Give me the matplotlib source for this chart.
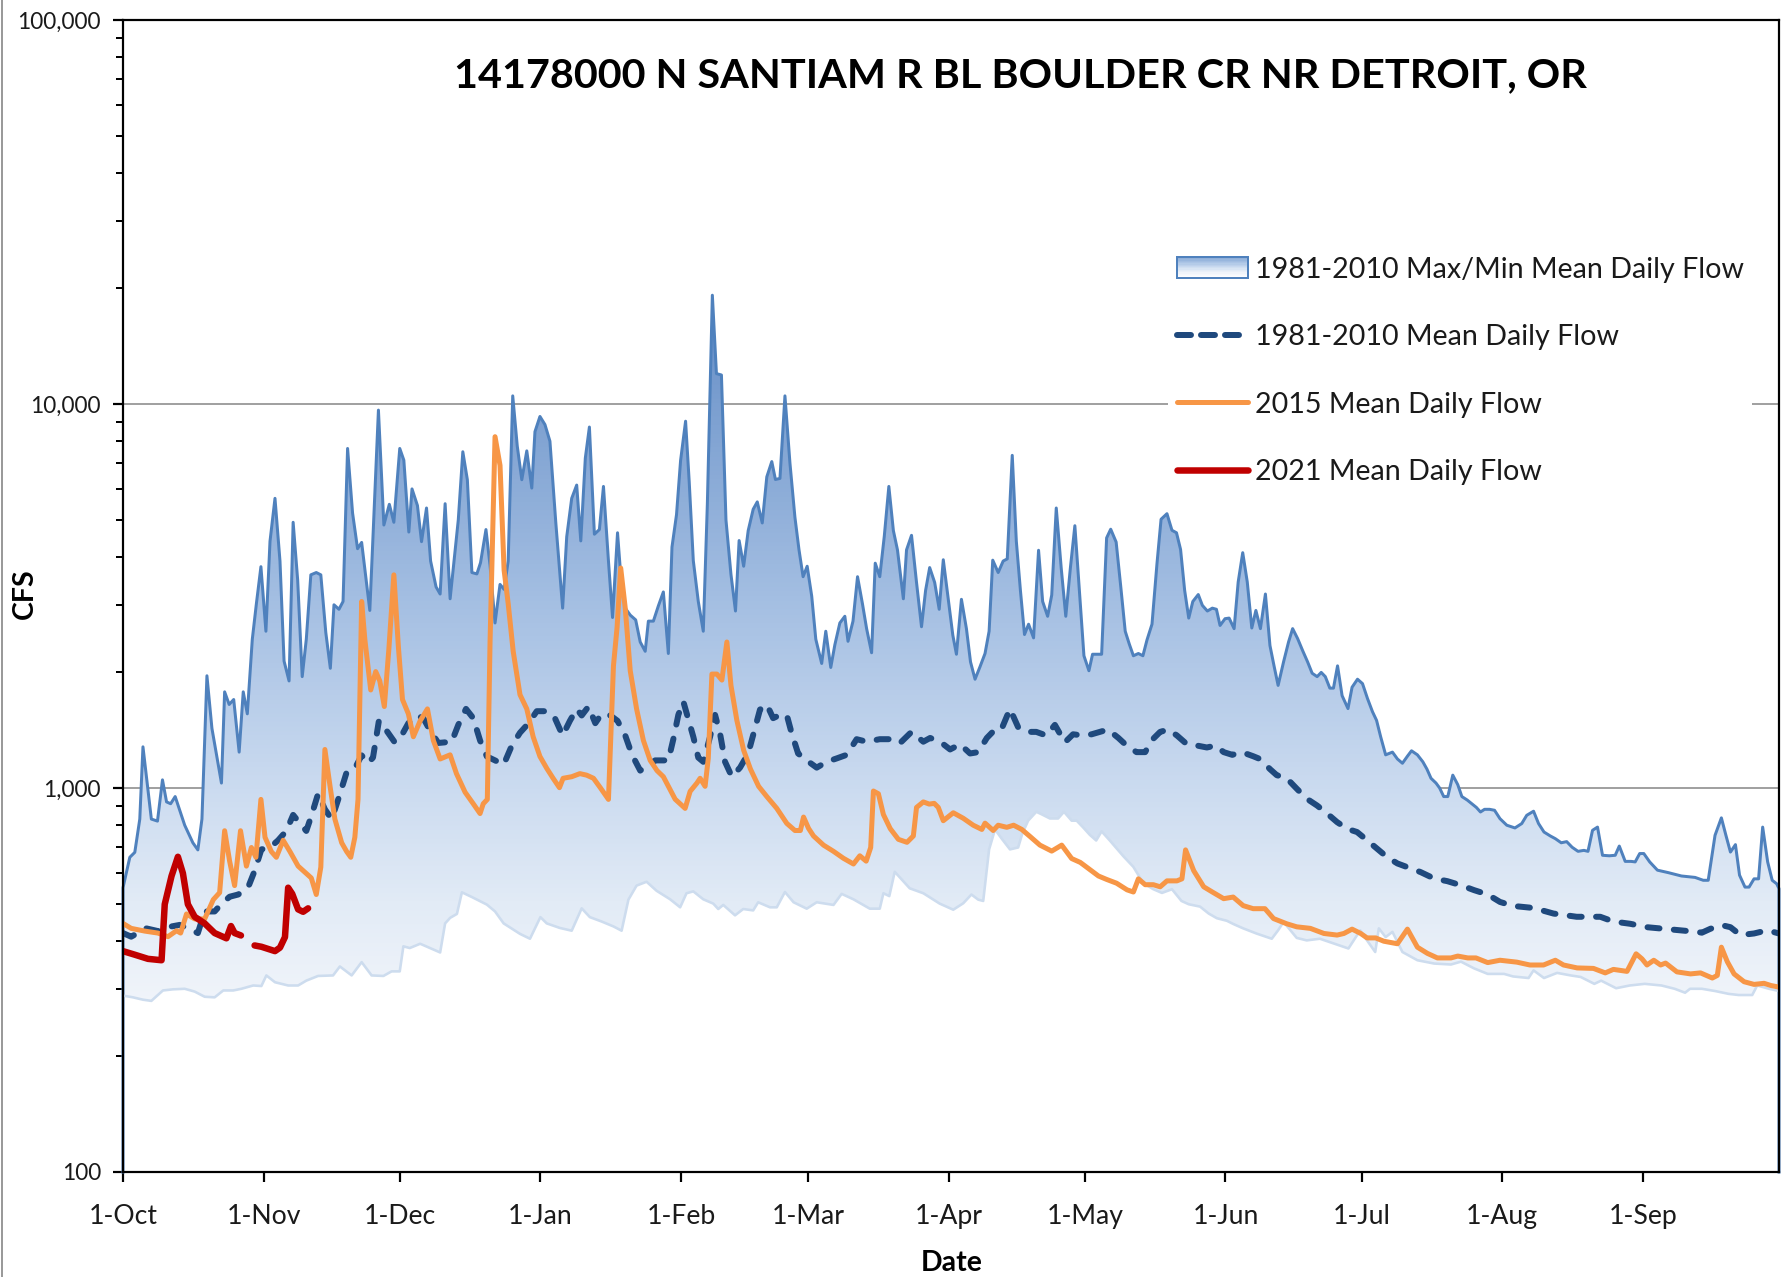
import numpy as np
import matplotlib
matplotlib.use('Agg')
import matplotlib.pyplot as plt
from matplotlib.patches import Polygon, Rectangle, Patch
from matplotlib.lines import Line2D
from matplotlib.legend_handler import HandlerBase
from matplotlib.colors import LinearSegmentedColormap
import matplotlib.ticker as mticker

plt.rcParams['font.family'] = ['Lato', 'DejaVu Sans']

# ---------------- data (day of water year, CFS) ----------------
title = "14178000 N SANTIAM R BL BOULDER CR NR DETROIT, OR"
month_ticks = [0, 31, 61, 92, 123, 151, 182, 212, 243, 273, 304, 335]
month_labels = ["1-Oct", "1-Nov", "1-Dec", "1-Jan", "1-Feb", "1-Mar", "1-Apr",
                "1-May", "1-Jun", "1-Jul", "1-Aug", "1-Sep"]
ytick_vals = [100, 1000, 10000, 100000]

max_days = [0, 1.5, 2.6, 3.7, 4.4, 6.25, 7.6, 8.7, 9.6, 10.5, 11.5, 13.6, 15.4, 16.5, 17.4, 18.5, 19.6, 21.7, 22.4, 23.4,
            24.4, 25.6, 26.5, 27.4, 28.5, 29.4, 30.4, 31.5, 32.4, 33.5, 34.6, 35.5, 36.6, 37.5, 38.5, 39.5, 40.4, 41.4,
            42.6, 43.6, 44.7, 45.7, 46.5, 47.6, 48.5, 49.5, 50.6, 51.7, 52.6, 54.4, 56.3, 57.5, 58.7, 59.7, 61, 61.9,
            63, 63.7, 64.9, 65.8, 66.9, 67.8, 69, 69.9, 71, 72.1, 73.9, 74.9, 75.9, 76.9, 78, 78.8, 80, 80.9, 82, 83.1,
            84, 84.9, 85.9, 86.9, 87.9, 89, 90.1, 90.8, 91.9, 93, 94.1, 95.4, 96.9, 97.8, 98.9, 100, 100.9, 101.9,
            102.8, 103.9, 105, 105.9, 107, 107.9, 109, 109.7, 110.7, 111.8, 113, 114, 115.1, 115.8, 116.9, 118, 119.1,
            120.2, 121, 122, 122.9, 124, 124.8, 125.7, 126.8, 127.9, 128.8, 129.9, 130.8, 131.9, 132.9, 134, 135,
            135.8, 136.8, 137.8, 138.9, 139.8, 140.9, 141.9, 143, 143.8, 144.8, 145.9, 147, 148.1, 149, 149.9, 150.8,
            151.8, 152.7, 154, 154.9, 156, 156.9, 158, 159.1, 159.8, 160.9, 161.9, 163, 163.9, 165, 165.8, 166.8,
            167.8, 168.8, 169.8, 170.7, 172, 172.7, 173.8, 174.9, 176, 176.9, 177.8, 178.9, 179.9, 180.8, 181.9,
            182.9, 183.7, 184.8, 185.9, 186.8, 187.8, 188.9, 190, 190.9, 191.7, 192.9, 194, 194.9, 196, 196.9, 197.8,
            198.7, 199.6, 200.7, 201.8, 202.7, 203.8, 204.7, 205.7, 206.8, 207.8, 208.8, 209.8, 210.8, 211.8, 212.9,
            213.7, 215.7, 216.8, 217.7, 218.9, 219.9, 220.9, 221.8, 222.7, 223.8, 224.8, 225.7, 226.8, 227.9, 228.8,
            230.1, 231.2, 232.2, 233.1, 234, 234.9, 235.8, 237, 237.9, 239, 240.1, 241, 241.8, 242.9, 243.8, 244.9,
            245.8, 246.8, 247.8, 248.8, 249.7, 250.7, 251.8, 252.8, 253.7, 254.6, 255.8, 256.9, 257.8, 258.9, 260,
            261.1, 262.1, 263.2, 264.1, 265, 266, 266.8, 267.7, 268.7, 270, 270.9, 272.1, 273.2, 274.3, 275.4,
            276.3, 277.2, 278.3, 279.8, 280.9, 282, 283.1, 284, 285.3, 286.5, 287.4, 288.3, 289.4, 290.2, 291.1,
            292, 293.1, 294.2, 295.1, 296.3, 297.3, 298.3, 299.2, 300.1, 301.2, 302.3, 303.5, 305, 306.8, 308.3,
            309.4, 310.9, 312, 313.2, 314.6, 315.7, 317, 318.2, 319.4, 320.7, 322, 322.9, 323.9, 325, 326.1, 327.6,
            328.9, 329.8, 331.1, 332.4, 333.3, 334.3, 335.2, 336.5, 338.2, 340.6, 343.5, 346.5, 348.3, 349.4, 350.9,
            352.3, 353.3, 354.3, 355.4, 356.3, 357.5, 358.4, 359.5, 360.5, 361.4, 362.5, 363.5, 364.5, 365]
max_cfs = [550, 660, 680, 830, 1280, 830, 820, 1050, 920, 910, 950, 800, 720, 690, 830, 1960, 1430, 1030, 1780, 1650,
           1700, 1240, 1780, 1560, 2440, 3020, 3770, 2560, 4390, 5680, 3900, 2140, 1900, 4920, 3480, 1950, 2440, 3590,
           3640, 3590, 2540, 2050, 3000, 2920, 3060, 7660, 5200, 4200, 4360, 2900, 9640, 4840, 5480, 4920, 7660, 7140,
           4640, 6010, 5440, 4380, 5360, 3900, 3340, 3200, 5500, 3110, 4990, 7510, 6350, 3640, 3610, 3860, 4710, 3800,
           2690, 3390, 3290, 3900, 10500, 7770, 6350, 7550, 6040, 8470, 9280, 8840, 8000, 4900, 2940, 4510, 5680, 6150,
           4400, 7230, 8710, 4580, 4710, 6100, 3900, 2780, 4620, 3590, 2940, 2820, 2740, 2400, 2270, 2720, 2720, 2980,
           3240, 2240, 4240, 5150, 7130, 9020, 6270, 3910, 3060, 2560, 5500, 19200, 12000, 11900, 4990, 3600, 2890,
           4410, 3780, 4680, 5320, 5560, 4900, 6460, 7080, 6360, 6400, 10500, 7020, 5070, 4170, 3550, 3780, 3160, 2440,
           2110, 2560, 2060, 2360, 2690, 2800, 2410, 2720, 3550, 3010, 2600, 2250, 3850, 3550, 4530, 6100, 4680, 4170,
           3110, 4170, 4550, 3430, 2630, 3270, 3750, 3430, 2920, 3930, 3100, 2500, 2230, 3100, 2600, 2130, 1920, 2070,
           2240, 2560, 3920, 3640, 3900, 3950, 7350, 4390, 3270, 2510, 2670, 2460, 4160, 3060, 2800, 3180, 5360, 3730,
           2800, 3730, 4820, 3270, 2210, 2020, 2230, 2230, 4480, 4720, 4370, 3360, 2560, 2370, 2210, 2240, 2210, 2430,
           2670, 3840, 5010, 5180, 4690, 4620, 4180, 3270, 2770, 3060, 3190, 2990, 2890, 2940, 2920, 2650, 2760, 2770,
           2600, 3440, 4100, 3440, 2610, 2900, 2600, 3200, 2350, 2080, 1850, 2130, 2400, 2600, 2450, 2280, 2130, 1990,
           1950, 2000, 1950, 1820, 1820, 2080, 1740, 1610, 1830, 1920, 1870, 1710, 1580, 1500, 1360, 1220, 1240, 1190,
           1160, 1210, 1250, 1220, 1170, 1120, 1060, 1030, 1000, 950, 950, 1080, 1020, 950, 930, 910, 890, 866, 880,
           880, 875, 832, 800, 787, 808, 849, 870, 808, 768, 750, 738, 720, 725, 701, 684, 688, 684, 776, 791, 668,
           666, 668, 706, 644, 644, 642, 675, 675, 642, 611, 602, 590, 585, 575, 575, 753, 836, 753, 681, 712, 593,
           552, 552, 580, 580, 791, 642, 575, 563, 547]

min_days = [0, 2.2, 4.4, 6.25, 8.8, 11, 13.6, 15.8, 18, 20.2, 22.1, 24.3, 26.1, 28.7, 30.5, 31.6, 33.5, 36.4, 38.6,
            40.4, 43, 46.3, 47.8, 50.4, 52.6, 54.8, 57.4, 59.2, 61, 61.8, 63.2, 65.5, 67.7, 69.9, 71, 72.1, 73.6, 74.7,
            76.9, 80.2, 82, 83.9, 87.5, 89.7, 92, 93.4, 96.3, 98.9, 101.1, 102.9, 105.5, 108.1, 109.9, 111.4, 113.2,
            115.4, 117.6, 120.6, 122.8, 124.2, 125.7, 127.9, 130.1, 131.2, 132.3, 134.9, 136.7, 138.9, 140, 142.6,
            144.1, 145.9, 147.8, 150.7, 152.9, 156.6, 158.4, 161, 164.6, 166.8, 167.6, 168.9, 170.1, 173.4, 176.4,
            180, 183, 185.2, 187, 188.5, 189.6, 190.9, 192.2, 193.6, 195.5, 197.3, 198.2, 199.5, 201.3, 202.4, 204.3,
            206.1, 207.4, 209.1, 210.2, 211.6, 213.1, 214.5, 215.7, 217.5, 220.5, 222.7, 224.9, 227.1, 229, 231.2,
            233.3, 234.9, 237.4, 239.3, 241.1, 243.3, 244.8, 246.9, 249.8, 253.2, 254.6, 255.8, 258.7, 260.9, 263.8,
            266.8, 270.1, 272.7, 274.2, 276, 276.8, 278.3, 279.8, 282, 285.3, 289, 292.7, 294.9, 297.8, 300.8, 304.4,
            306.4, 309.8, 310.9, 313.2, 316.1, 319.1, 321.3, 324.3, 325.8, 329.1, 332.1, 335.4, 339.1, 342, 344.3,
            345.4, 348, 350.9, 353.9, 356.1, 359.1, 360.2, 362.8, 365]
min_cfs = [288, 285, 281, 279, 297, 299, 300, 295, 286, 285, 297, 297, 300, 306, 305, 325, 312, 306, 306, 315, 324, 325,
           343, 325, 352, 325, 324, 333, 333, 387, 383, 393, 383, 373, 444, 459, 470, 535, 520, 497, 477, 444, 417, 405,
           461, 444, 432, 425, 486, 461, 449, 436, 425, 512, 557, 570, 540, 513, 489, 532, 538, 513, 500, 484, 496, 466,
           484, 480, 504, 489, 489, 536, 504, 485, 504, 496, 530, 513, 485, 485, 532, 523, 605, 548, 532, 500, 482, 501,
           528, 512, 508, 692, 780, 740, 692, 700, 760, 822, 867, 855, 833, 833, 867, 822, 822, 790, 755, 730, 771, 730,
           664, 623, 565, 545, 533, 545, 508, 498, 491, 471, 458, 451, 442, 431, 418, 405, 426, 448, 407, 401, 405, 394,
           382, 426, 401, 374, 431, 409, 422, 374, 356, 349, 347, 353, 339, 328, 328, 323, 320, 335, 320, 330, 325, 322,
           309, 315, 301, 306, 309, 306, 300, 293, 300, 300, 296, 291, 289, 289, 306, 300, 296]

mean_days = [0, 1.8, 5.1, 7.7, 10.7, 12.5, 14.3, 16.5, 18, 20.2, 21.7, 23.5, 25.4, 27.6, 29, 30.5, 32.4, 34.2, 36,
             37.5, 38.6, 40.4, 41.5, 43, 44.5, 46, 47.4, 49.3, 51.1, 52.6, 54, 55.1, 56.4, 58.1, 59.9, 61.4, 62.9, 64.7,
             66.2, 67.7, 69.5, 71, 72.4, 73.9, 75.6, 77.2, 78.7, 80.2, 82, 83.9, 85.7, 87.5, 89.4, 91.2, 93.4, 95.2,
             96.9, 98.5, 100, 101.1, 102.6, 104.1, 105.5, 107.4, 109, 110.7, 112.2, 114, 115.4, 117.3, 118.8, 120.2,
             121.3, 122.4, 123.5, 124.6, 125.7, 126.8, 127.9, 129.4, 130.5, 131.6, 132.7, 134.2, 136, 137.8, 139.3,
             140.4, 141.9, 143.3, 144.8, 146.3, 147.3, 148.8, 150.7, 152.9, 155.1, 157.3, 159.5, 161.7, 163.9, 166.8,
             169.8, 171.3, 173.8, 176.4, 177.9, 180.1, 182.3, 184.5, 186.7, 188.5, 190.4, 192.2, 193.6, 195.5, 197.3,
             199.1, 201.3, 203.5, 205.4, 207.6, 209.4, 211.6, 213.5, 215.3, 217.1, 219.4, 221.2, 223.4, 225.3, 226.7,
             228.6, 230.4, 232.3, 234.5, 236.7, 238.9, 240.8, 242.6, 244.5, 246.6, 249.1, 250.6, 252.8, 254.3, 256.5,
             258.7, 260.9, 263.2, 265.4, 267.6, 269.8, 272, 274.2, 276.4, 278.6, 280.9, 283.4, 286, 289, 291.9, 294.9,
             297.8, 300.8, 303.5, 306.4, 310.9, 315.3, 320.4, 325.6, 328.5, 332.2, 335.9, 339.6, 343.3, 346.9, 348,
             349.9, 352.5, 354.3, 356.5, 359.5, 362.4, 365]
mean_cfs = [419, 410, 431, 424, 436, 440, 431, 419, 477, 477, 499, 521, 528, 552, 608, 692, 700, 731, 773, 851, 820, 773,
            845, 966, 880, 830, 931, 1100, 1125, 1216, 1160, 1200, 1496, 1410, 1315, 1370, 1475, 1545, 1520, 1410, 1310,
            1315, 1315, 1460, 1607, 1520, 1330, 1208, 1180, 1150, 1290, 1393, 1475, 1585, 1585, 1520, 1370, 1496, 1607,
            1545, 1630, 1475, 1560, 1545, 1496, 1370, 1220, 1110, 1140, 1180, 1180, 1180, 1340, 1550, 1680, 1510, 1360,
            1200, 1170, 1360, 1550, 1385, 1170, 1070, 1130, 1230, 1430, 1600, 1650, 1520, 1550, 1550, 1400, 1230, 1180,
            1130, 1170, 1194, 1220, 1340, 1320, 1340, 1340, 1310, 1400, 1320, 1350, 1320, 1260, 1300, 1230, 1240, 1350,
            1420, 1420, 1607, 1440, 1400, 1400, 1370, 1460, 1315, 1380, 1370, 1380, 1400, 1420, 1350, 1290, 1240, 1240,
            1330, 1400, 1420, 1370, 1300, 1290, 1275, 1290, 1240, 1220, 1240, 1210, 1190, 1120, 1080, 1060, 996, 938,
            900, 858, 815, 783, 768, 731, 695, 661, 636, 620, 604, 581, 572, 558, 542, 528, 505, 493, 487, 471, 462, 462,
            449, 443, 434, 430, 426, 422, 420, 430, 439, 434, 414, 418, 426, 418]

y2015_days = [0, 1.8, 4.8, 7.7, 9.9, 11.8, 12.7, 14, 15.8, 18, 19.9, 21.3, 22.4, 23.5, 24.6, 25.9, 27.2, 28.3, 29.3,
              30.4, 31.3, 32.7, 33.8, 35.3, 36.8, 38.6, 40.4, 41.5, 42.6, 43.6, 44.5, 45.6, 46.7, 48.2, 49.3, 50.2,
              51.1, 51.8, 52.6, 53.3, 54.6, 55.7, 56.6, 57.6, 58.6, 59.7, 60.7, 61.6, 62.9, 64, 65.5, 67.1, 68.4, 69.9,
              72.1, 73.5, 75.4, 77.2, 78.7, 79.4, 80.3, 80.9, 82, 83.1, 84, 84.9, 86, 87.5, 89, 90.4, 91.9, 93.4, 94.8,
              96.2, 97, 98.9, 100.7, 102.2, 103.7, 105.2, 107, 108.1, 108.9, 109.7, 110.7, 111.8, 113.2, 114.7, 116.2,
              117.7, 119.1, 120.6, 121.7, 123.9, 125, 126.5, 127.2, 128.3, 129, 129.8, 130.9, 132, 133.1, 134, 135.3,
              136.8, 138.3, 140.1, 141.9, 144.1, 146.3, 148.1, 149.3, 150, 151.1, 152.2, 154.4, 156.6, 158.8, 161,
              162.4, 163.8, 164.8, 165.4, 166.5, 167.6, 169.1, 170.9, 172.8, 174.2, 174.9, 176.4, 177.7, 178.8, 179.7,
              180.8, 183, 185.2, 187.4, 189.3, 190, 191.8, 192.9, 194.8, 196.3, 198.1, 199.9, 202.1, 204.7, 206.9,
              209.1, 211, 212.8, 215, 216.8, 219, 221.3, 222.7, 223.8, 225.3, 227.1, 228.6, 230.1, 232.3, 233.4, 234.2,
              236, 238.2, 240.1, 242.6, 244.7, 246.9, 249.1, 251.7, 253.6, 256.5, 258.7, 261.7, 264.7, 267.6, 269.1,
              270.9, 272.8, 274.2, 276.1, 277.9, 280.9, 283.1, 285.3, 287.5, 289.7, 292.7, 294.2, 296.4, 298.2, 300.8,
              303.5, 307.2, 310.1, 313.1, 315.7, 317.5, 320.5, 324.1, 326.7, 328.5, 331.5, 333.5, 334.8, 335.9, 337.4,
              338.9, 340, 342.5, 345.5, 347.7, 350.3, 351.4, 352.3, 353.6, 355.1, 357.3, 359.5, 361.7, 363.2, 365]
y2015_cfs = [444, 431, 424, 419, 410, 425, 419, 470, 456, 456, 512, 534, 774, 645, 557, 774, 626, 700, 660, 934, 744,
             683, 660, 731, 683, 626, 599, 583, 528, 622, 1260, 1017, 830, 720, 683, 660, 744, 934, 3060, 2440, 1800,
             2010, 1900, 1630, 2300, 3590, 2330, 1700, 1560, 1360, 1496, 1607, 1330, 1190, 1220, 1090, 975, 910, 858,
             910, 934, 2400, 8220, 6920, 3690, 3020, 2270, 1750, 1607, 1360, 1208, 1125, 1060, 1002, 1060, 1070, 1090,
             1080, 1060, 1002, 934, 2080, 2620, 3740, 2940, 2020, 1607, 1330, 1180, 1110, 1070, 990, 935, 885, 980, 1030,
             1060, 1010, 1194, 1980, 1980, 1910, 2400, 1850, 1500, 1254, 1120, 1010, 950, 885, 809, 775, 775, 840, 785,
             750, 710, 684, 656, 634, 666, 645, 700, 982, 966, 853, 784, 735, 722, 750, 890, 920, 908, 912, 890, 822,
             862, 834, 800, 780, 810, 775, 800, 790, 800, 780, 748, 710, 685, 710, 655, 640, 617, 590, 578, 565, 543, 536,
             580, 560, 560, 553, 573, 573, 580, 690, 609, 553, 536, 515, 520, 494, 485, 485, 457, 443, 435, 431, 418, 414,
             418, 429, 418, 407, 407, 399, 393, 429, 385, 371, 361, 361, 365, 361, 361, 351, 356, 352, 346, 346, 356, 346,
             340, 339, 330, 337, 333, 370, 359, 346, 356, 346, 350, 332, 328, 330, 320, 325, 385, 353, 328, 313, 308, 310,
             306, 303]

y2021_days = [0, 2.6, 5.5, 8.5, 9.2, 10.7, 12.1, 13.2, 14.3, 15.8, 18, 20.2, 22.8, 23.8, 24.6, 26, 27.5,
              29, 30.5, 33.5, 34.6, 35.7, 36.4, 37.3, 38.6, 39.7, 40.8]
y2021_cfs = [376, 368, 359, 356, 498, 590, 662, 600, 498, 462, 444, 419, 406, 437, 419, 413, np.nan,
             389, 386, 376, 384, 409, 550, 530, 483, 476, 486]

legend_labels = ["1981-2010 Max/Min Mean Daily Flow", "1981-2010 Mean Daily Flow",
                 "2015 Mean Daily Flow", "2021 Mean Daily Flow"]

# ---------------- styles ----------------
C_MAX = '#4f81bd'
C_MIN = '#cddcee'
C_MEAN = '#1f497d'
C_2015 = '#f79646'
C_2021 = '#c00000'
grad_stops = [(0.0, '#ffffff'), (0.133, '#f3f6fb'), (0.233, '#e2ebf6'), (0.333, '#cbdbf0'),
              (0.5, '#a3bee2'), (0.667, '#7b9fd0'), (0.767, '#6089c4'), (1.0, '#4a78b8')]
grad_cmap = LinearSegmentedColormap.from_list('grad', grad_stops)

W, H = 1792, 1277
PX = 72.0 / 100.0  # points per pixel
fig = plt.figure(figsize=(W / 100, H / 100), dpi=100)
ax = fig.add_axes([123 / W, 1 - 1172 / H, (1779 - 123) / W, (1172 - 20) / H])
ax.set_yscale('log')
YMIN, YMAX = 100, 100000
XMIN, XMAX = 0, 365
ax.set_xlim(XMIN, XMAX)
ax.set_ylim(YMIN, YMAX)

renderer = fig.canvas.get_renderer()


def fit_size(text, target_w, weight='normal'):
    t = fig.text(0, 0, text, fontsize=20, weight=weight)
    w = t.get_window_extent(renderer).width
    t.remove()
    return 20 * target_w / w


# gradient fill between min and max
grad = np.linspace(0, 1, 1200).reshape(-1, 1)
im = ax.imshow(grad, cmap=grad_cmap, origin='lower', extent=[0, 1, 0, 1], transform=ax.transAxes,
               aspect='auto', interpolation='bilinear', zorder=2)
poly_pts = list(zip(max_days, max_cfs)) + list(zip(min_days[::-1], min_cfs[::-1]))
clip = Polygon(poly_pts, closed=True, transform=ax.transData)
im.set_clip_path(clip)
ax.set_xlim(XMIN, XMAX)
ax.set_ylim(YMIN, YMAX)

# lines
ax.plot([max_days[0]] + max_days + [max_days[-1]], [YMIN] + max_cfs + [YMIN], color=C_MAX,
        lw=3.0 * PX, zorder=3, solid_joinstyle='round', clip_on=False)
ax.plot(min_days, min_cfs, color=C_MIN, lw=2.6 * PX, zorder=3, solid_joinstyle='round')
ax.plot(mean_days, mean_cfs, color=C_MEAN, lw=6.0 * PX, zorder=4, linestyle=(0, (2.0, 2.4)),
        dash_capstyle='round')
ax.plot(y2015_days, y2015_cfs, color=C_2015, lw=5.0 * PX, zorder=5, solid_joinstyle='round',
        solid_capstyle='round')
ax.plot(y2021_days, y2021_cfs, color=C_2021, lw=6.5 * PX, zorder=6, solid_joinstyle='round',
        solid_capstyle='round')

# grid
ax.set_axisbelow(True)
ax.yaxis.grid(True, which='major', color='#8a8a8a', lw=1.6 * PX, zorder=0)
ax.xaxis.grid(False)

# spines & ticks
for s in ax.spines.values():
    s.set_color('black')
    s.set_linewidth(2.2 * PX)
    s.set_zorder(7)

ax.yaxis.set_major_locator(mticker.FixedLocator(ytick_vals))
ax.yaxis.set_minor_locator(mticker.LogLocator(base=10, subs=np.arange(2, 10)))
ax.yaxis.set_minor_formatter(mticker.NullFormatter())
ax.yaxis.set_major_formatter(mticker.FuncFormatter(lambda v, p: f'{int(round(v)):,}'))
ax.set_xticks(month_ticks)
ax.set_xticklabels(month_labels)

ytick_fs = fit_size("100,000", 84)
xtick_fs = fit_size("1-Oct", 69)
ax.tick_params(axis='y', which='major', direction='out', length=10 * PX, width=2.2 * PX,
               labelsize=ytick_fs, pad=12 * PX, colors='black')
ax.tick_params(axis='y', which='minor', direction='out', length=7 * PX, width=2.0 * PX, colors='black')
ax.tick_params(axis='x', which='major', direction='out', length=10 * PX, width=2.2 * PX,
               labelsize=xtick_fs, pad=22 * PX, colors='black')
for lab in ax.get_yticklabels() + ax.get_xticklabels():
    lab.set_color('#1a1a1a')

# axis titles
lab_fs = fit_size("Date", 62, weight='bold')
fig.text(952 / W, 1 - 1263 / H, "Date", ha='center', va='center', weight='bold', fontsize=lab_fs)
fig.text(25 / W, 1 - 594 / H, "CFS", ha='center', va='center', weight='bold', fontsize=lab_fs,
         rotation=90)

# title
title_fs = fit_size(title, 1131, weight='bold')
fig.text(1020 / W, 1 - 76 / H, title, ha='center', va='center', weight='bold', fontsize=title_fs,
         color='black', zorder=10)


# legend
class GradientHandler(HandlerBase):
    def create_artists(self, legend, orig_handle, xdescent, ydescent, width, height, fontsize, trans):
        arts = []
        n = 16
        for i in range(n):
            f = 1.0 - (i + 0.5) / n          # 1 at top, 0 at bottom
            r = Rectangle((-xdescent, -ydescent + height * (n - i - 1) / n), width, height / n + 0.3,
                          facecolor=grad_cmap(0.02 + f * 0.62), edgecolor='none', transform=trans)
            arts.append(r)
        arts.append(Rectangle((-xdescent, -ydescent), width, height, fill=False, edgecolor=C_MAX,
                              lw=2.0 * PX, transform=trans))
        return arts


leg_fs = fit_size(legend_labels[0], 488)
leg_fs_px = leg_fs / PX
handles = [Patch(facecolor='#a3bee2', edgecolor=C_MAX),
           Line2D([], [], color=C_MEAN, lw=6.0 * PX, linestyle=(0, (2.33, 1.67)), dash_capstyle='round'),
           Line2D([], [], color=C_2015, lw=5.0 * PX, solid_capstyle='round'),
           Line2D([], [], color=C_2021, lw=6.5 * PX, solid_capstyle='round')]
leg = ax.legend(handles, legend_labels, handler_map={Patch: GradientHandler()},
                loc='upper left', bbox_to_anchor=(1168 / W, 1 - 248 / H), bbox_transform=fig.transFigure,
                fontsize=leg_fs, frameon=True, facecolor='white', edgecolor='none', framealpha=1.0,
                fancybox=False, borderpad=0.3, handlelength=71 / leg_fs_px, handleheight=21 / leg_fs_px,
                handletextpad=7 / leg_fs_px, labelspacing=1.45, borderaxespad=0)
leg.set_zorder(8)
for t in leg.get_texts():
    t.set_color('#1a1a1a')

# outer chart border (left edge)
fig.add_artist(Line2D([2 / W, 2 / W], [0, 1], transform=fig.transFigure, color='#9a9a9a', lw=2 * PX))

fig.savefig('out.png', dpi=100, facecolor='white')
